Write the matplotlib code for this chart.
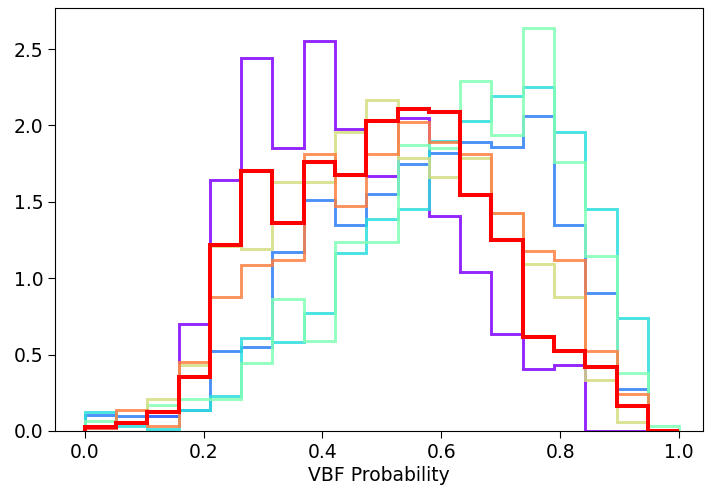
import numpy as np
import matplotlib
matplotlib.use("Agg")
import matplotlib.pyplot as plt

# 19 equal bins on [0, 1], density values
edges = np.linspace(0, 1, 20)

purple = [0.02, 0.05, 0.10, 0.70, 1.64, 2.44, 1.85, 2.55, 1.98, 1.67,
          2.05, 1.41, 1.04, 0.635, 0.405, 0.43, 0.0, 0.0, 0.0]
blue = [0.105, 0.10, 0.10, 0.14, 0.52, 0.55, 1.17, 1.51, 1.35, 1.55,
        1.75, 1.82, 1.89, 1.86, 2.06, 1.35, 0.90, 0.275, 0.0]
cyan = [0.125, 0.03, 0.01, 0.135, 0.23, 0.61, 0.58, 0.77, 1.165, 1.39,
        1.45, 1.90, 2.03, 2.19, 2.25, 1.96, 1.45, 0.74, 0.0]
green = [0.065, 0.05, 0.17, 0.21, 0.21, 0.445, 0.865, 0.59, 1.24, 1.24,
         1.87, 1.85, 2.29, 1.94, 2.64, 1.76, 1.145, 0.38, 0.035]
yellow = [0.03, 0.05, 0.21, 0.43, 1.21, 1.19, 1.63, 1.63, 1.96, 2.17,
          1.79, 1.66, 1.79, 1.43, 1.09, 0.88, 0.335, 0.06, 0.0]
orange = [0.02, 0.14, 0.03, 0.45, 0.875, 1.085, 1.12, 1.81, 1.47, 1.81,
          2.02, 1.89, 1.81, 1.43, 1.18, 1.12, 0.52, 0.24, 0.0]
red = [0.026, 0.052, 0.124, 0.355, 1.22, 1.70, 1.36, 1.76, 1.675, 2.03,
       2.11, 2.09, 1.545, 1.25, 0.615, 0.52, 0.42, 0.16, 0.0]

series = [purple, blue, cyan, green, yellow, orange, red]

fig = plt.figure(figsize=(7.05, 4.93), dpi=100)
ax = fig.add_axes([0.078, 0.126, 0.919, 0.858])

centers = (edges[:-1] + edges[1:]) / 2
colors = plt.cm.rainbow(np.linspace(0, 1, len(series)))
for i, vals in enumerate(series):
    last = i == len(series) - 1
    ax.hist(centers, bins=edges, weights=vals, histtype="step",
            color=colors[i], linewidth=2.9 if last else 2.1,
            alpha=1.0 if last else 0.85)

ax.set_xlim(-0.05, 1.04)
ax.set_ylim(0, 2.77)
ax.set_xticks([0.0, 0.2, 0.4, 0.6, 0.8, 1.0])
ax.set_yticks([0.0, 0.5, 1.0, 1.5, 2.0, 2.5])
ax.tick_params(labelsize=13.5, length=5)
ax.set_xlabel("VBF Probability", fontsize=13.5, labelpad=3)

fig.savefig("out.png", dpi=100)
